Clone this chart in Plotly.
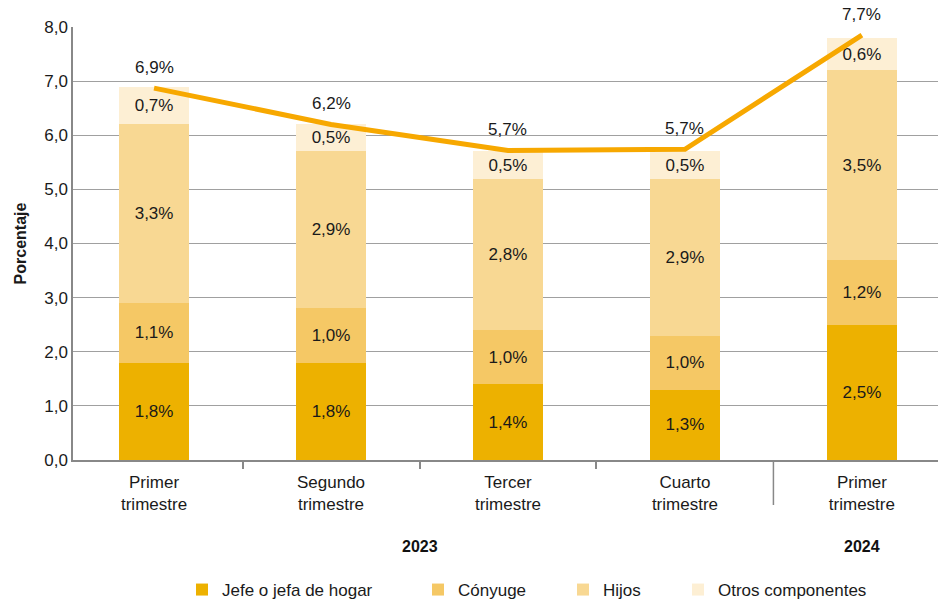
import plotly.graph_objects as go

years = ["2023", "2023", "2023", "2023", "2024"]
quarters = ["Primer<br>trimestre", "Segundo<br>trimestre", "Tercer<br>trimestre",
            "Cuarto<br>trimestre", "Primer<br>trimestre"]

jefe = [1.8, 1.8, 1.4, 1.3, 2.5]
conyuge = [1.1, 1.0, 1.0, 1.0, 1.2]
hijos = [3.3, 2.9, 2.8, 2.9, 3.5]
otros = [0.7, 0.5, 0.5, 0.5, 0.6]

total_line = [6.87, 6.2, 5.72, 5.74, 7.85]
total_labels = ["6,9%", "6,2%", "5,7%", "5,7%", "7,7%"]

series = [
    ("Jefe o jefa de hogar", jefe, "#EDB100"),
    ("Cónyuge", conyuge, "#F5C865"),
    ("Hijos", hijos, "#F8D893"),
    ("Otros componentes", otros, "#FDEFD4"),
]
legend_left_px = [182, 418, 563, 678]  # left edge of each legend entry (page px)

FONT = "Liberation Sans, Arial, Helvetica, sans-serif"
TXT = "#1a1a1a"
FS = 17

W, H = 938, 601
ML, MR, MT, MB = 73, 0, 27, 141
PW, PH = W - ML - MR, H - MT - MB

xs = list(range(len(quarters)))

fig = go.Figure()
for k, (name, vals, color) in enumerate(series):
    lg = "legend" if k == 0 else f"legend{k + 1}"
    fig.add_trace(go.Bar(
        x=xs, y=vals, name=name, marker=dict(color=color, line=dict(width=0)),
        text=[f"{v:.1f}%".replace(".", ",") for v in vals],
        textposition="inside", insidetextanchor="middle", textangle=0,
        textfont=dict(size=FS, color=TXT, family=FONT),
        hoverinfo="skip", legend=lg,
    ))

fig.add_trace(go.Scatter(
    x=xs, y=total_line, mode="lines", showlegend=False,
    line=dict(color="#F7A800", width=5), hoverinfo="skip",
))

for i, (lab, v) in enumerate(zip(total_labels, total_line)):
    fig.add_annotation(
        x=i, y=v, xref="x", yref="y", text=lab, showarrow=False,
        yshift=21, font=dict(size=FS, color=TXT, family=FONT),
    )

# year group labels and group divider
groups = []
for i, yv in enumerate(years):
    if not groups or groups[-1][0] != yv:
        groups.append([yv, [i]])
    else:
        groups[-1][1].append(i)
for yv, idx in groups:
    fig.add_annotation(
        x=sum(idx) / len(idx), y=-(546 - (MT + PH)) / PH, xref="x", yref="paper",
        text=f"<b>{yv}</b>", showarrow=False, yanchor="middle",
        font=dict(size=16, color="#111111", family=FONT),
    )
boundaries_minor = []
for i in range(1, len(years)):
    if years[i] != years[i - 1]:
        fig.add_shape(type="line", xref="x", yref="paper", x0=i - 0.5, x1=i - 0.5,
                      y0=0, y1=-(505 - (MT + PH)) / PH,
                      line=dict(color="#888888", width=1.5))
    else:
        boundaries_minor.append(i - 0.5)

legend_y = -(590 - (MT + PH)) / PH
layout_legends = {}
for k, px in enumerate(legend_left_px):
    key = "legend" if k == 0 else f"legend{k + 1}"
    layout_legends[key] = dict(
        orientation="h", x=(px - ML) / PW, xanchor="left", y=legend_y, yanchor="middle",
        font=dict(size=FS, color=TXT, family=FONT), bgcolor="rgba(0,0,0,0)",
    )

fig.update_layout(
    width=W, height=H,
    margin=dict(l=ML, r=MR, t=MT, b=MB, autoexpand=False),
    barmode="stack", bargap=0.6,
    plot_bgcolor="white", paper_bgcolor="white",
    separators=", ",
    font=dict(family=FONT, size=FS, color=TXT),
    uniformtext=dict(minsize=FS, mode="show"),
    **layout_legends,
)
fig.update_xaxes(
    range=[-0.458, 4.43],
    tickmode="array", tickvals=xs, ticktext=quarters,
    showline=True, linecolor="#888888", linewidth=1.5,
    ticks="", ticklabelstandoff=6,
    minor=dict(tickmode="array", tickvals=boundaries_minor, ticks="outside", ticklen=7,
               tickcolor="#888888", tickwidth=1.5, showgrid=False),
    tickfont=dict(size=FS, color=TXT),
    showgrid=False, zeroline=False, automargin=False,
)
fig.update_yaxes(
    range=[0, 8], dtick=1, tickformat=".1f",
    showgrid=True, gridcolor="#A0A0A0", gridwidth=1,
    showline=True, linecolor="#888888", linewidth=1.5,
    ticks="", tickfont=dict(size=FS, color=TXT),
    title=dict(text="<b>Porcentaje</b>", font=dict(size=16, color=TXT), standoff=14),
    zeroline=False, automargin=False,
)

fig.write_html("out.html", config={"displayModeBar": False},
               post_script="document.body.style.margin='0';")
